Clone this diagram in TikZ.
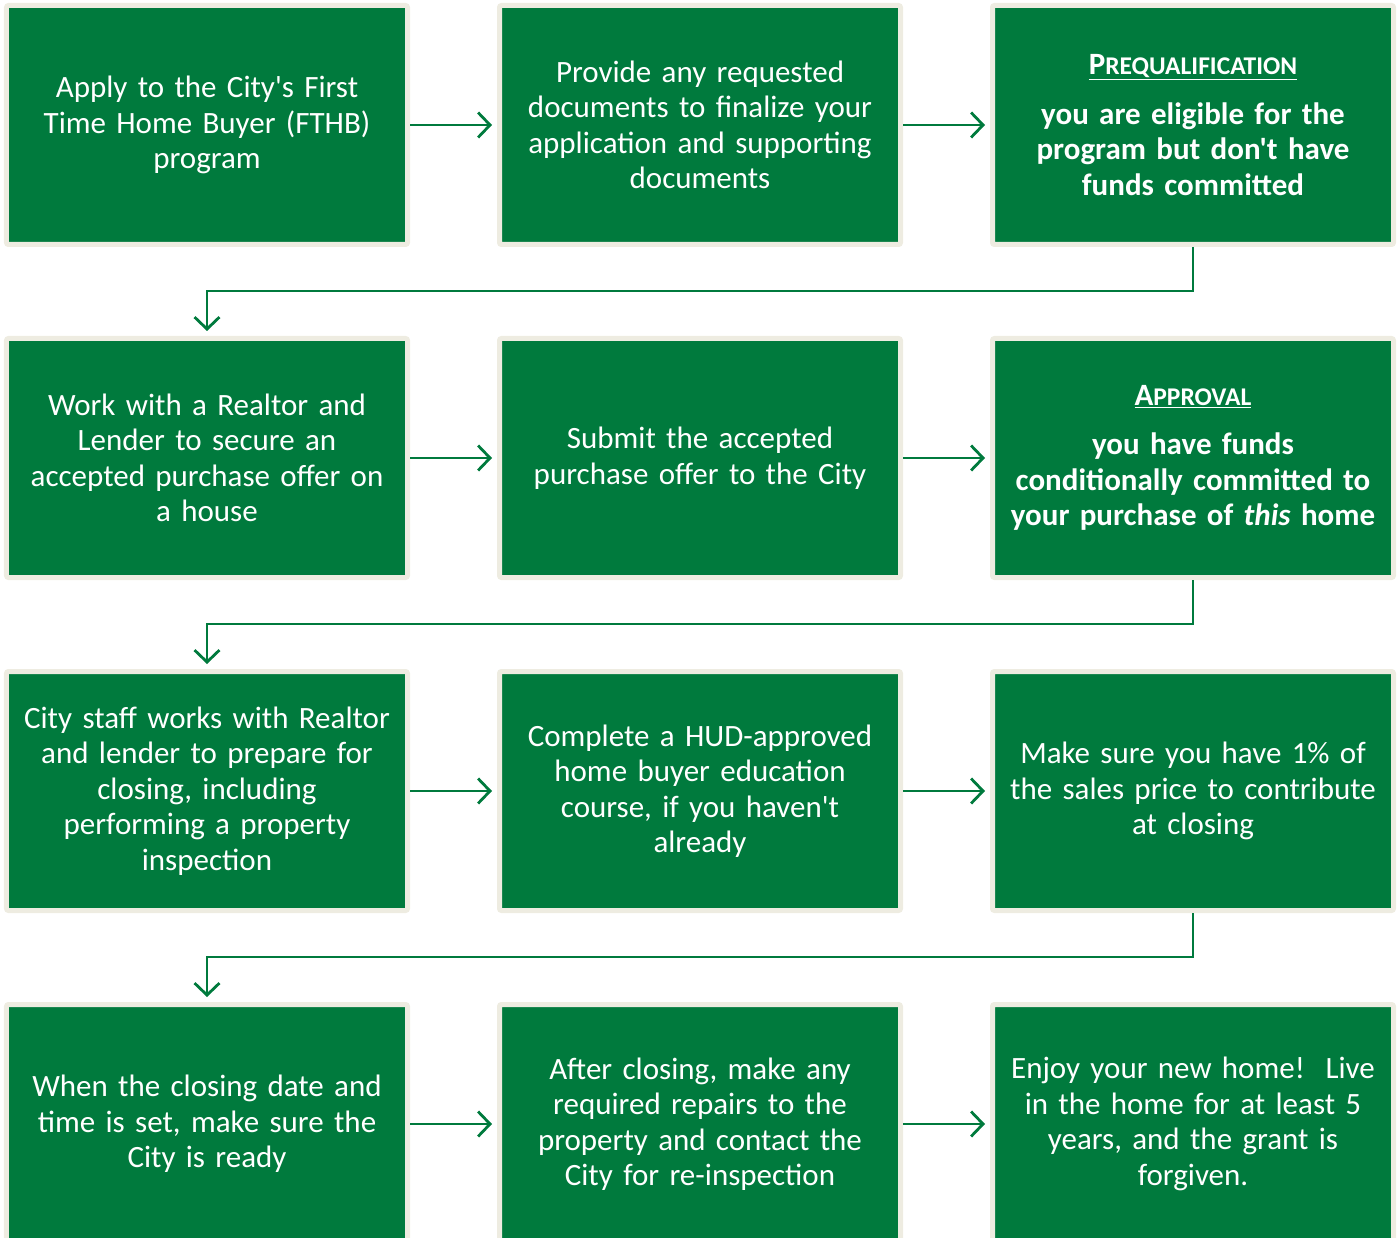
\documentclass[tikz,border=0pt]{standalone}
\usepackage{fontspec}
\setmainfont{Carlito}[Ligatures=TeXOff]
\usepackage{xcolor}
\usetikzlibrary{positioning,arrows.meta}

\definecolor{fthgreen}{RGB}{0,122,61}
\definecolor{fthbeige}{RGB}{238,236,225}
\newcommand{\fakesc}[2]{\underline{\textbf{#1{\fontsize{25.5}{25.5}\selectfont #2}}}}

\begin{document}
\begin{tikzpicture}[node distance=89pt and 87pt,
	stepbox/.style={rectangle, fill=fthgreen, draw=fthbeige, line width=5pt, rounded corners=2pt,
		minimum width=401pt, minimum height=239pt, text width=394pt, align=center,
		text=white, font=\fontsize{31}{35.5}\selectfont},
	flowarrow/.style={draw=fthgreen, line width=2.8pt, -{Straight Barb[length=12pt,width=25pt,line width=2.8pt]}, shorten >=5pt}]
	\useasboundingbox (-207pt,125pt) rectangle (1190pt,-1113pt);
	% row 1
	\node[stepbox] (apply) {Apply to the City's First\\Time Home Buyer (FTHB)\\program};
	\node[stepbox, right=of apply] (provide) {Provide any requested\\documents to finalize your\\application and supporting\\documents};
	\node[stepbox, right=of provide] (prequal) {\fakesc{P}{REQUALIFICATION}\\[14pt]\textbf{you are eligible for the}\\\textbf{program but don't have}\\\textbf{funds committed}};
	% row 2
	\node[stepbox, below=of apply] (realtor) {Work with a Realtor and\\Lender to secure an\\accepted purchase offer on\\a house};
	\node[stepbox, right=of realtor] (submit) {Submit the accepted\\purchase offer to the City};
	\node[stepbox, right=of submit] (approval) {\fakesc{A}{PPROVAL}\\[14pt]\textbf{you have funds}\\\textbf{conditionally committed to}\\\textbf{your purchase of \textit{this} home}};
	% row 3
	\node[stepbox, below=of realtor] (staff) {City staff works with Realtor\\and lender to prepare for\\closing, including\\performing a property\\inspection};
	\node[stepbox, right=of staff] (course) {Complete a HUD-approved\\home buyer education\\course, if you haven't\\already};
	\node[stepbox, right=of course] (percent) {Make sure you have 1\% of\\the sales price to contribute\\at closing};
	% row 4
	\node[stepbox, below=of staff] (closing) {When the closing date and\\time is set, make sure the\\City is ready};
	\node[stepbox, right=of closing] (repairs) {After closing, make any\\required repairs to the\\property and contact the\\City for re-inspection};
	\node[stepbox, right=of repairs] (enjoy) {Enjoy your new home!\ \ Live\\in the home for at least 5\\years, and the grant is\\forgiven.};

	\draw[flowarrow] (apply) -- (provide);
	\draw[flowarrow] (provide) -- (prequal);
	\draw[flowarrow] (prequal.south) -- ++(0,-44pt) -| (realtor.north);
	\draw[flowarrow] (realtor) -- (submit);
	\draw[flowarrow] (submit) -- (approval);
	\draw[flowarrow] (approval.south) -- ++(0,-44pt) -| (staff.north);
	\draw[flowarrow] (staff) -- (course);
	\draw[flowarrow] (course) -- (percent);
	\draw[flowarrow] (percent.south) -- ++(0,-44pt) -| (closing.north);
	\draw[flowarrow] (closing) -- (repairs);
	\draw[flowarrow] (repairs) -- (enjoy);
\end{tikzpicture}
\end{document}
